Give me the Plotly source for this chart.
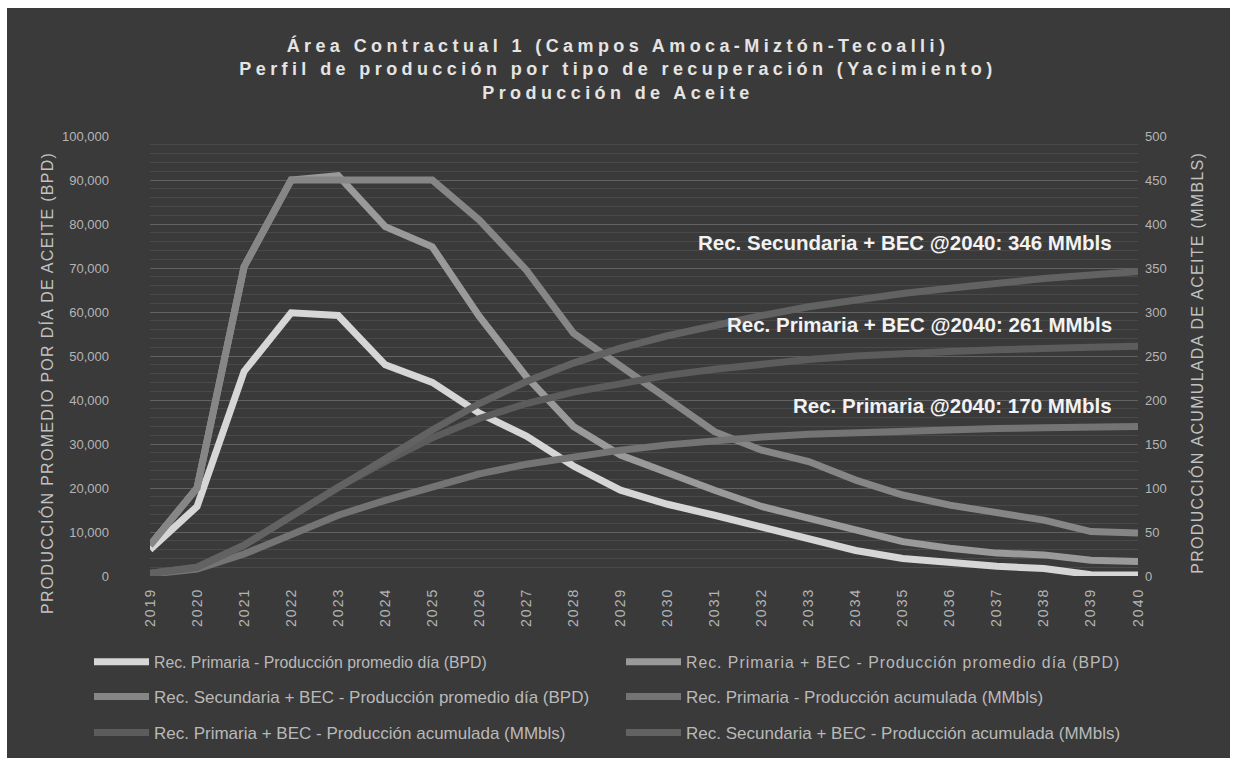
import plotly.graph_objects as go

# Years on the category axis
years = [str(y) for y in range(2019, 2041)]

# Average daily oil production (BPD)
prim_bpd = [6000, 15800, 46500, 59800, 59200, 48000, 44000, 37000, 31800, 25000, 19500,
            16300, 13800, 11000, 8300, 5800, 4000, 3000, 2200, 1700, 300, 200]
prim_bec_bpd = [7000, 20000, 70300, 90000, 91000, 79400, 74800, 59000, 45300, 34000, 27500,
                23400, 19500, 15800, 13200, 10500, 7800, 6300, 5200, 4800, 3600, 3300]
sec_bec_bpd = [7000, 20000, 70300, 90000, 90000, 90000, 90000, 80900, 69500, 55200, 47600,
               40000, 32800, 28600, 26000, 21800, 18400, 16100, 14600, 12700, 10100, 9800]

# Cumulative oil production (MMbls)
prim_cum = [2, 8, 25, 47, 69, 86, 102, 116, 127, 136, 143,
            149, 154, 158, 161, 163, 165, 166.5, 167.5, 168.5, 169.5, 170]
prim_bec_cum = [3, 10, 35, 68, 101, 130, 157, 179, 196, 209, 219,
                228, 235, 241, 246, 250, 253, 255, 257, 259, 260, 261]
sec_bec_cum = [3, 10, 35, 68, 101, 134, 166, 196, 221, 242, 259,
               273, 285, 296, 306, 314, 321, 327, 333, 338, 342, 346]

FONT = "Liberation Sans, Arial, sans-serif"
BG = "#3a3a3a"
W, H = 1236, 763

series = [
    ("Rec. Primaria - Producción promedio día (BPD)", prim_bpd, "y", "#d6d6d6", "legend"),
    ("Rec. Primaria + BEC - Producción promedio día (BPD)", prim_bec_bpd, "y", "#9a9a9a", "legend"),
    ("Rec. Secundaria + BEC - Producción promedio día (BPD)", sec_bec_bpd, "y", "#868686", "legend2"),
    ("Rec. Primaria - Producción acumulada (MMbls)", prim_cum, "y2", "#747474", "legend2"),
    ("Rec. Primaria + BEC - Producción acumulada (MMbls)", prim_bec_cum, "y2", "#5c5c5c", "legend3"),
    ("Rec. Secundaria + BEC - Producción acumulada (MMbls)", sec_bec_cum, "y2", "#626262", "legend3"),
]

fig = go.Figure()
for name, vals, yax, color, leg in series:
    fig.add_trace(go.Scatter(
        x=years, y=vals, name=name, mode="lines", yaxis=yax, legend=leg,
        line=dict(color=color, width=7),
    ))

# Plot area: x 150..1138 px, y 136..576 px
L, R, T, B = 150, W - 1138, 136, H - 576
PW, PH = 1138 - 150, 576 - 136


def px(xp):
    return (xp - L) / PW


def py(yp):
    return (576 - yp) / PH


def legend_row(yp, size):
    return dict(
        x=px(89), y=py(yp),
        orientation="h", xanchor="left", yanchor="middle",
        xref="paper", yref="paper",
        font=dict(family=FONT, size=size, color="#b9b9b9"),
        bgcolor="rgba(0,0,0,0)", itemwidth=55,
        entrywidth=462, entrywidthmode="pixels", traceorder="normal",
    )


fig.update_layout(
    width=W, height=H,
    margin=dict(l=L, r=R, t=T, b=B, autoexpand=False),
    paper_bgcolor="white",
    plot_bgcolor="rgba(0,0,0,0)",
    font=dict(family=FONT, color="#b5b5b5"),
    title=dict(
        text="Área Contractual 1 (Campos Amoca-Miztón-Tecoalli)<br>"
             "Perfil de producción por tipo de recuperación (Yacimiento)<br>"
             "Producción de Aceite",
        x=0.5, xanchor="center", xref="container",
        y=1 - 52 / H, yanchor="top", yref="container",
        font=dict(family=FONT, size=18, color="#e4e4e4", weight="bold"),
    ),
    xaxis=dict(
        type="category", tickangle=-90, showgrid=False, showline=False,
        ticks="", tickfont=dict(size=14, color="#b5b5b5"), ticklabelstandoff=8,
    ),
    yaxis=dict(
        range=[0, 100000], dtick=10000, tickformat=",", showline=False,
        gridcolor="#626262", gridwidth=1, zeroline=False,
        tickfont=dict(size=13, color="#b5b5b5"), ticklabelstandoff=40,
        minor=dict(dtick=2000, showgrid=True, gridcolor="#4a4a4a", gridwidth=1),
    ),
    yaxis2=dict(
        range=[0, 500], dtick=50, overlaying="y", side="right",
        showgrid=False, zeroline=False, showline=False,
        tickfont=dict(size=13, color="#b5b5b5"), ticklabelstandoff=6,
    ),
    legend=legend_row(662, 15.8),
    legend2=legend_row(697, 17),
    legend3=legend_row(733, 17),
    shapes=[dict(
        type="rect", xref="paper", yref="paper", layer="below",
        x0=px(7), x1=px(1230), y0=py(758), y1=py(8),
        fillcolor=BG, line=dict(width=0),
    )],
)

# Axis titles
fig.add_annotation(
    text="PRODUCCIÓN PROMEDIO POR DÍA DE ACEITE (BPD)", textangle=-90,
    xref="paper", yref="paper", x=px(47), y=py(383), showarrow=False,
    xanchor="center", yanchor="middle",
    font=dict(family=FONT, size=16, color="#c2c2c2"),
)
fig.add_annotation(
    text="PRODUCCIÓN ACUMULADA DE ACEITE (MMBLS)", textangle=-90,
    xref="paper", yref="paper", x=px(1197), y=py(363), showarrow=False,
    xanchor="center", yanchor="middle",
    font=dict(family=FONT, size=16, color="#c2c2c2"),
)

# End-of-period cumulative labels
labels = [
    ("Rec. Secundaria + BEC", sec_bec_cum[-1], 242),
    ("Rec. Primaria + BEC", prim_bec_cum[-1], 324),
    ("Rec. Primaria", prim_cum[-1], 405),
]
for lab, val, yp in labels:
    fig.add_annotation(
        text=f"{lab} @{years[-1]}: {val:.0f} MMbls",
        xref="paper", yref="paper", x=px(1114), y=py(yp),
        xanchor="right", yanchor="middle", showarrow=False,
        font=dict(family=FONT, size=20.5, color="#f2f2f2", weight="bold"),
    )

spacing_js = """
var gd = document.getElementById('{plot_id}');
function applySpacing() {
  gd.querySelectorAll('.gtitle').forEach(function(t){ t.style.letterSpacing='4.4px'; });
  gd.querySelectorAll('.xtick text').forEach(function(t){ t.style.letterSpacing='2px'; });
  gd.querySelectorAll('.annotation-text').forEach(function(t){
    if (t.textContent.indexOf('PRODUCCI') === 0) { t.style.letterSpacing='1.3px'; }
  });
  gd.querySelectorAll('text.legendtext').forEach(function(t){
    if (t.textContent.indexOf('Rec. Primaria + BEC - Producción promedio') === 0) {
      t.style.letterSpacing='1px';
    }
  });
}
applySpacing();
new MutationObserver(applySpacing).observe(gd, {childList: true, subtree: true});
if (gd.on) { gd.on('plotly_afterplot', applySpacing); }
"""
fig.write_html("out.html", post_script=spacing_js)
